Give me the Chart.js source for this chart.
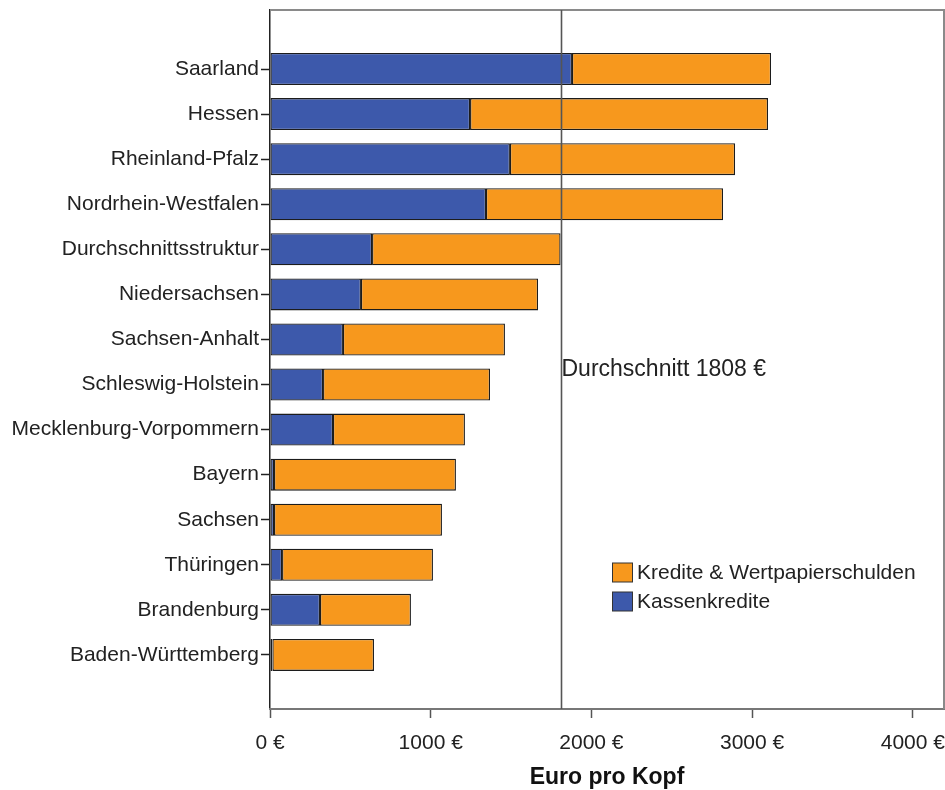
<!DOCTYPE html>
<html>
<head>
<meta charset="utf-8">
<script src="https://cdn.jsdelivr.net/npm/chart.js@4"></script>
<style>
  html, body { margin: 0; padding: 0; background: #fff; }
  canvas { display: block; }
</style>
</head>
<body>
<canvas id="chart" width="945" height="790"></canvas>
<script>
// ================= DATA =================
const laender = [
  "Saarland", "Hessen", "Rheinland-Pfalz", "Nordrhein-Westfalen",
  "Durchschnittsstruktur", "Niedersachsen", "Sachsen-Anhalt",
  "Schleswig-Holstein", "Mecklenburg-Vorpommern", "Bayern", "Sachsen",
  "Thüringen", "Brandenburg", "Baden-Württemberg"
];
const kassenkredite = [1879, 1245, 1493, 1344, 635, 566, 454, 330, 392, 25, 25, 75, 311, 15];
const krediteWertpapiere = [1239, 1854, 1401, 1475, 1173, 1102, 1008, 1039, 821, 1132, 1045, 939, 566, 632];
const xTicks = [0, 1000, 2000, 3000, 4000];
const durchschnitt = 1808;

const FONT = "'Liberation Sans', Arial, sans-serif";
const TEXT = "#222";
const BLUE = "#3d59ab";
const ORANGE = "#f7981d";

// ================= PLUGINS =================
const frame = {
  id: "frame",
  beforeDatasetsDraw(chart) {
    const { ctx, chartArea: a } = chart;
    ctx.save();
    ctx.strokeStyle = "#8a8a8a";
    ctx.lineWidth = 2;
    ctx.beginPath();
    ctx.moveTo(a.left, a.top);
    ctx.lineTo(a.right, a.top);
    ctx.lineTo(a.right, a.bottom);
    ctx.stroke();
    ctx.restore();
  }
};

const avgLine = {
  id: "avgLine",
  afterDatasetsDraw(chart) {
    const { ctx, chartArea: a, scales } = chart;
    const x = Math.round(scales.x.getPixelForValue(durchschnitt)) + 0.5;
    ctx.save();
    ctx.strokeStyle = "#555";
    ctx.lineWidth = 1.6;
    ctx.beginPath();
    ctx.moveTo(x, a.top);
    ctx.lineTo(x, a.bottom);
    ctx.stroke();
    ctx.fillStyle = TEXT;
    ctx.font = `23px ${FONT}`;
    ctx.textBaseline = "middle";
    ctx.fillText(`Durchschnitt ${durchschnitt} €`, x, scales.y.getPixelForValue(6.68));

    // legend (orange first, as in the original)
    const items = [chart.data.datasets[1], chart.data.datasets[0]];
    ctx.font = `21px ${FONT}`;
    items.forEach((ds, i) => {
      const y = 573 + i * 29;
      ctx.fillStyle = ds.backgroundColor;
      ctx.fillRect(612.5, y - 10, 20, 19);
      ctx.strokeStyle = "#333";
      ctx.lineWidth = 1;
      ctx.strokeRect(612.5, y - 10, 20, 19);
      ctx.fillStyle = TEXT;
      ctx.fillText(ds.label, 637, y);
    });
    ctx.restore();
  }
};

// ================= CHART =================
new Chart(document.getElementById("chart"), {
  type: "bar",
  data: {
    datasets: [
      {
        label: "Kassenkredite",
        data: kassenkredite.map((v, i) => ({ x: v, y: i })),
        backgroundColor: BLUE,
        borderColor: "#1c1c1c",
        borderWidth: 1.3,
        borderSkipped: false,
        barPercentage: 0.71,
        categoryPercentage: 1
      },
      {
        label: "Kredite & Wertpapierschulden",
        data: krediteWertpapiere.map((v, i) => ({ x: v, y: i })),
        backgroundColor: ORANGE,
        borderColor: "#1c1c1c",
        borderWidth: 1.3,
        borderSkipped: false,
        barPercentage: 0.71,
        categoryPercentage: 1
      }
    ]
  },
  options: {
    indexAxis: "y",
    responsive: false,
    animation: false,
    layout: { padding: { top: 10, right: 1, left: 0, bottom: 0 } },
    plugins: { legend: { display: false }, tooltip: { enabled: false } },
    scales: {
      y: {
        type: "linear",
        stacked: true,
        reverse: true,
        offset: false,
        min: -1.31,
        max: 14.2,
        afterBuildTicks: s => { s.ticks = laender.map((_, i) => ({ value: i })); },
        afterFit: s => { s.width = 270; s.paddingTop = 0; s.paddingBottom = 0; },
        border: { color: "#222", width: 1.5 },
        grid: { drawOnChartArea: false, offset: false, tickLength: 9, color: "#222", tickWidth: 1.5 },
        ticks: {
          autoSkip: false,
          padding: 2,
          color: TEXT,
          font: { family: FONT, size: 21 },
          callback: v => laender[v] ?? ""
        }
      },
      x: {
        type: "linear",
        stacked: true,
        min: 0,
        max: 4194,
        afterBuildTicks: s => { s.ticks = xTicks.map(v => ({ value: v })); },
        afterFit: s => { s.height = 81; s.paddingLeft = 0; s.paddingRight = 0; },
        border: { color: "#777", width: 2 },
        grid: { drawOnChartArea: false, tickLength: 9, color: "#555", tickWidth: 1.5 },
        ticks: {
          padding: 13,
          color: TEXT,
          font: { family: FONT, size: 21 },
          callback: v => `${v} €`
        },
        title: {
          display: true,
          text: "Euro pro Kopf",
          color: "#111",
          font: { family: FONT, size: 23, weight: "bold" },
          padding: { top: 0, bottom: -1 }
        }
      }
    }
  },
  plugins: [frame, avgLine]
});
</script>
</body>
</html>
